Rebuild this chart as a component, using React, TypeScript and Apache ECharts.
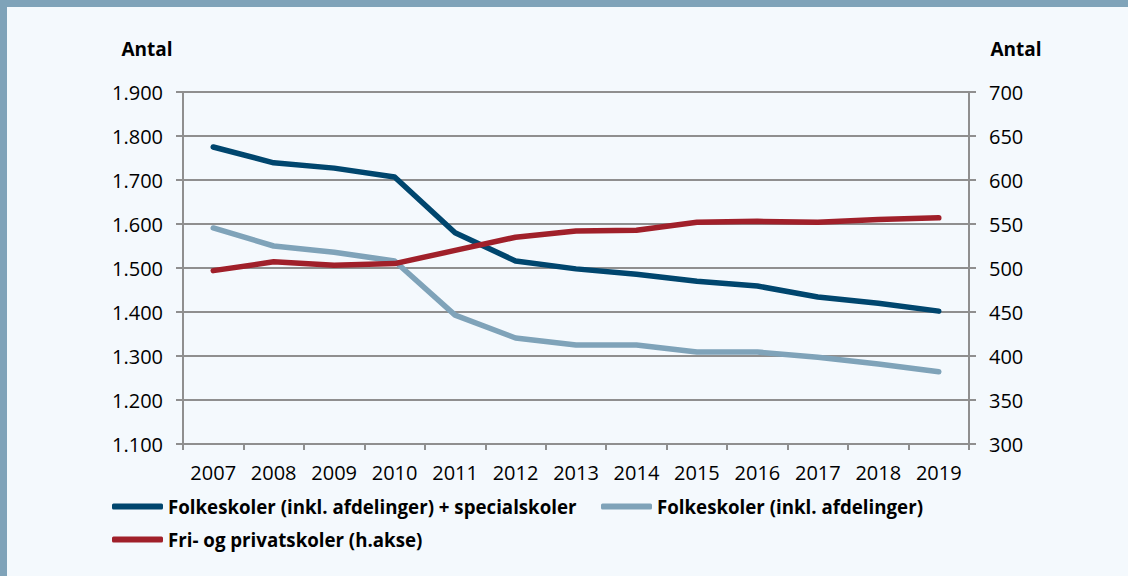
import React, { useEffect, useRef } from "react";
import * as echarts from "echarts";

const years = ["2007", "2008", "2009", "2010", "2011", "2012", "2013", "2014", "2015", "2016", "2017", "2018", "2019"];
const folkePlusSpecial = [1775, 1739, 1727, 1707, 1580, 1516, 1498, 1486, 1470, 1459, 1434, 1420, 1402];
const folke = [1591, 1550, 1536, 1516, 1393, 1341, 1325, 1325, 1309, 1309, 1297, 1282, 1264];
const friPrivat = [497, 507, 503, 505, 520, 535, 542, 543, 552, 553, 552, 555, 557];

const names = [
  "Folkeskoler (inkl. afdelinger) + specialskoler",
  "Folkeskoler (inkl. afdelinger)",
  "Fri- og privatskoler (h.akse)",
];
const colors = ["#00466e", "#7fa3b9", "#a0202a"];

const FONT = "Open Sans";
const GRID = "#8f8f8f";

export default function App() {
  const ref = useRef<HTMLDivElement>(null);
  useEffect(() => {
    if (!ref.current) return;
    const chart = echarts.init(ref.current, undefined, { renderer: "svg" });
    const legendBase = {
      padding: 0,
      itemWidth: 51,
      itemHeight: 6,
      itemGap: 0,
      itemTextGap: 3,
      icon: "roundRect",
      textStyle: { fontFamily: FONT, fontWeight: "bold" as const, fontSize: 18.7, color: "#000" },
    };
    chart.setOption({
      animation: false,
      backgroundColor: "#f4f9fd",
      textStyle: { fontFamily: FONT },
      grid: { left: 183, right: 159, top: 92, bottom: 132, containLabel: false },
      graphic: [
        { type: "rect", shape: { x: 0, y: 0, width: 1128, height: 7 }, style: { fill: "#7fa3b9" } },
        { type: "rect", shape: { x: 0, y: 0, width: 7, height: 576 }, style: { fill: "#7fa3b9" } },
        {
          type: "text",
          x: 147,
          y: 49,
          style: { text: "Antal", fontFamily: FONT, fontSize: 19, fontWeight: "bold", fill: "#000", align: "center", verticalAlign: "middle" },
        },
        {
          type: "text",
          x: 1016,
          y: 49,
          style: { text: "Antal", fontFamily: FONT, fontSize: 19, fontWeight: "bold", fill: "#000", align: "center", verticalAlign: "middle" },
        },
      ],
      legend: [
        { ...legendBase, data: [names[0]], left: 112, top: 497 },
        { ...legendBase, data: [names[1]], left: 601, top: 497 },
        { ...legendBase, data: [names[2]], left: 112, top: 530 },
      ],
      xAxis: {
        type: "category",
        data: years,
        boundaryGap: true,
        axisLine: { lineStyle: { color: GRID, width: 2 } },
        axisTick: { show: true, length: 6, lineStyle: { color: GRID, width: 2 } },
        axisLabel: { color: "#000", fontSize: 20, fontFamily: FONT, margin: 18 },
      },
      yAxis: [
        {
          type: "value",
          min: 1100,
          max: 1900,
          interval: 100,
          position: "left",
          axisLine: { show: true, lineStyle: { color: GRID, width: 2 } },
          axisTick: { show: true, length: 7, lineStyle: { color: GRID, width: 2 } },
          splitLine: { show: true, lineStyle: { color: GRID, width: 2 } },
          axisLabel: {
            color: "#000",
            fontSize: 20,
            fontFamily: FONT,
            margin: 20,
            formatter: (v: number) => {
              const s = String(Math.round(v));
              return s.length > 3 ? s.slice(0, s.length - 3) + "." + s.slice(-3) : s;
            },
          },
        },
        {
          type: "value",
          min: 300,
          max: 700,
          interval: 50,
          position: "right",
          axisLine: { show: true, lineStyle: { color: GRID, width: 2 } },
          axisTick: { show: true, length: 7, lineStyle: { color: GRID, width: 2 } },
          splitLine: { show: false },
          axisLabel: { color: "#000", fontSize: 20, fontFamily: FONT, margin: 20 },
        },
      ],
      series: [
        {
          name: names[0],
          type: "line",
          data: folkePlusSpecial,
          yAxisIndex: 0,
          symbol: "none",
          color: colors[0],
          lineStyle: { width: 5.5, cap: "round", join: "round" },
        },
        {
          name: names[1],
          type: "line",
          data: folke,
          yAxisIndex: 0,
          symbol: "none",
          color: colors[1],
          lineStyle: { width: 5.5, cap: "round", join: "round" },
        },
        {
          name: names[2],
          type: "line",
          data: friPrivat,
          yAxisIndex: 1,
          symbol: "none",
          color: colors[2],
          lineStyle: { width: 5.5, cap: "round", join: "round" },
        },
      ],
    });
    return () => chart.dispose();
  }, []);
  return (
    <div
      ref={ref}
      style={{ position: "fixed", left: 0, top: 0, width: 1128, height: 576 }}
    />
  );
}
